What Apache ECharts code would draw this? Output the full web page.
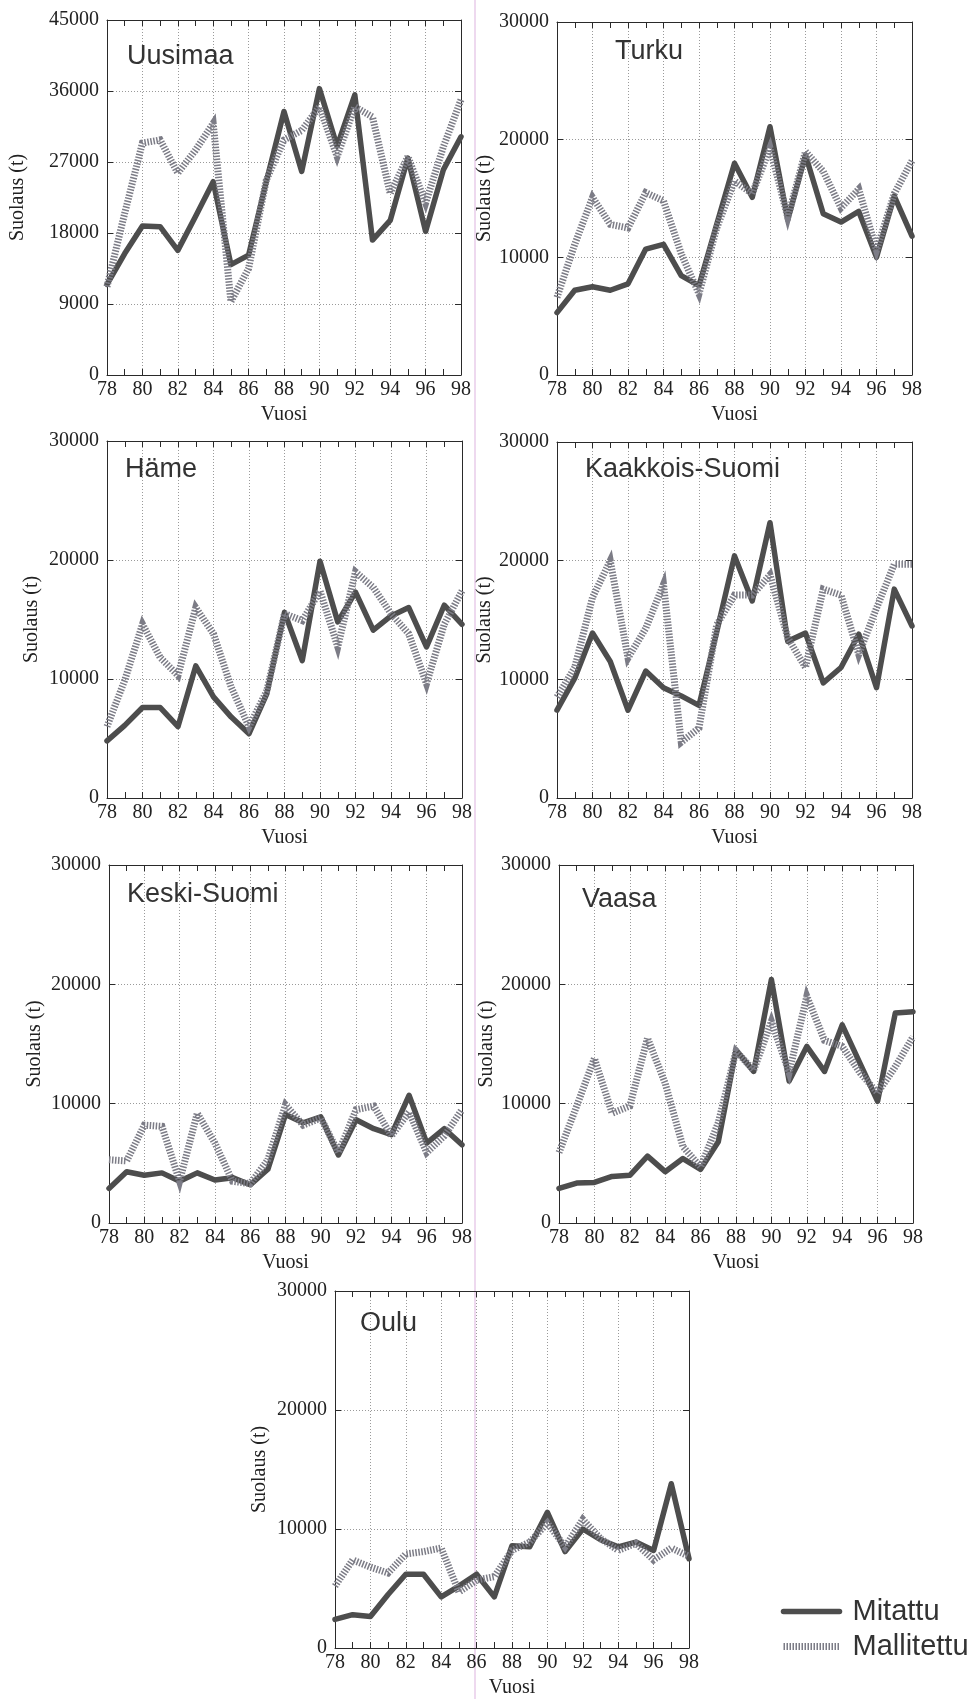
<!DOCTYPE html>
<html>
<head>
<meta charset="utf-8">
<script src="https://cdn.jsdelivr.net/npm/echarts@6/dist/echarts.min.js"></script>
<style>
html,body{margin:0;padding:0;background:#fff;}
#chart{width:972px;height:1699px;}
</style>
</head>
<body>
<div id="chart"></div>
<script>
// ---- data ----
const years = [78,79,80,81,82,83,84,85,86,87,88,89,90,91,92,93,94,95,96,97,98];
const seriesNames = ['Mitattu', 'Mallitettu'];
const regionNames = ['Uusimaa', 'Turku', 'Häme', 'Kaakkois-Suomi', 'Keski-Suomi', 'Vaasa', 'Oulu'];

const uusimaaMitattu    = [11500,15400,18900,18800,15800,20100,24500,14000,15200,24500,33400,25800,36300,29000,35500,17100,19600,27500,18200,26000,30200];
const uusimaaMallitettu = [11200,20500,29400,29800,25600,28500,31900,9300,13500,24700,29800,31000,34000,27700,34000,32700,23000,27700,21800,28900,34900];

const turkuMitattu      = [5300,7200,7500,7200,7750,10700,11100,8450,7600,12800,18000,15100,21100,13200,18700,13700,13000,13900,10000,15200,11800];
const turkuMallitettu   = [6600,11100,15100,12800,12500,15500,14800,10300,6900,12500,16500,15400,19300,13400,19000,17300,14200,15800,10600,15400,18200];

const hameMitattu       = [4800,6100,7600,7600,6000,11100,8500,6800,5400,8750,15600,11550,19900,14800,17300,14100,15300,16000,12700,16200,14600];
const hameMallitettu    = [6000,9900,14600,11800,10300,16000,13800,9300,6000,9000,15500,14900,17400,12700,19000,17700,15500,13800,9600,14600,17400];

const kaakkoisMitattu   = [7400,10100,13900,11500,7400,10700,9300,8600,7800,14000,20400,16600,23200,13200,13900,9700,11000,13800,9300,17600,14500];
const kaakkoisMallitettu= [8500,11000,16900,20000,11800,14300,18000,4700,5900,14600,17100,17100,18800,13500,11000,17600,17100,12100,16000,19700,19700];

const keskiMitattu      = [2900,4300,4000,4200,3500,4200,3600,3800,3200,4500,9100,8400,8900,5700,8650,7900,7400,10700,6700,7900,6550];
const keskiMallitettu   = [5300,5200,8200,8100,3500,9200,6700,3500,3300,5300,9900,8200,8800,5900,9500,9800,7300,9300,5900,7300,9500];

const vaasaMitattu      = [2900,3350,3400,3900,4000,5600,4300,5400,4500,6800,14500,12700,20400,11900,14800,12700,16600,13400,10200,17600,17700];
const vaasaMallitettu   = [5900,9800,13800,9200,9800,15500,11700,6400,4700,8400,14400,12800,16900,12600,19000,15300,14800,12600,10900,13100,15600];

const ouluMitattu       = [2400,2800,2650,4500,6200,6200,4300,5200,6200,4300,8600,8500,11400,8100,10000,9100,8500,8900,8200,13800,7500];
const ouluMallitettu    = [5200,7400,6800,6300,7900,8100,8400,4700,5700,6000,8200,8900,10500,8500,10800,9200,8200,8800,7400,8400,7700];

const yMaxes  = [45000,30000,30000,30000,30000,30000,30000];
const ySteps  = [9000,10000,10000,10000,10000,10000,10000];
const xLabelStep = 2;
const xAxisName = 'Vuosi';
const yAxisName = 'Suolaus (t)';

// ---- layout / style ----
const measured = [uusimaaMitattu, turkuMitattu, hameMitattu, kaakkoisMitattu, keskiMitattu, vaasaMitattu, ouluMitattu];
const modelled = [uusimaaMallitettu, turkuMallitettu, hameMallitettu, kaakkoisMallitettu, keskiMallitettu, vaasaMallitettu, ouluMallitettu];

const gridBoxes = [
  [107, 20, 354, 355],
  [557, 22, 355, 353],
  [107, 441, 355, 357],
  [557, 442, 355, 356],
  [109, 865, 353, 358],
  [559, 865, 354, 358],
  [335, 1291, 354, 357]
];
const titlePos = [[122,38],[610,33],[120,451],[580,451],[122,876],[577,881],[355,1305]];
const yNameGaps = [79, 62, 65, 59, 64, 61, 65];

const SERIF = '"Liberation Serif", "DejaVu Serif", serif';
const SANS = '"Liberation Sans", Arial, sans-serif';
const AX = '#2a2a2a';
const plain = v => String(Math.round(v));

const grids = [], xAxes = [], yAxes = [], series = [], titles = [];
gridBoxes.forEach((b, i) => {
  grids.push({left: b[0], top: b[1], width: b[2], height: b[3], containLabel: false});
  titles.push({text: regionNames[i], left: titlePos[i][0], top: titlePos[i][1],
    textStyle: {fontFamily: SANS, fontSize: 27, fontWeight: 'normal', color: '#333'}});
  const tick = {show: true, inside: true, length: 6, lineStyle: {color: AX, width: 1}};
  const minor = {show: true, splitNumber: 2, length: 6, lineStyle: {color: AX, width: 1}};
  xAxes.push({
    gridIndex: i, type: 'value', min: years[0], max: years[years.length-1], interval: xLabelStep,
    position: 'bottom', name: xAxisName, nameLocation: 'middle', nameGap: 30,
    nameTextStyle: {fontFamily: SERIF, fontSize: 20, color: '#222'},
    axisLine: {show: true, onZero: false, lineStyle: {color: AX, width: 1}},
    axisTick: tick, minorTick: minor,
    axisLabel: {fontFamily: SERIF, fontSize: 20, color: '#222', margin: 5, formatter: plain},
    splitLine: {show: true, lineStyle: {color: '#9a9a9a', width: 1, type: [1, 2]}}
  });
  xAxes.push({
    gridIndex: i, type: 'value', min: years[0], max: years[years.length-1], interval: xLabelStep,
    position: 'top',
    axisLine: {show: true, onZero: false, lineStyle: {color: AX, width: 1}},
    axisTick: tick, minorTick: minor,
    axisLabel: {show: false}, splitLine: {show: false}
  });
  yAxes.push({
    gridIndex: i, type: 'value', min: 0, max: yMaxes[i], interval: ySteps[i],
    position: 'left', name: yAxisName, nameLocation: 'middle', nameGap: yNameGaps[i],
    nameTextStyle: {fontFamily: SERIF, fontSize: 20, color: '#222'},
    axisLine: {show: true, onZero: false, lineStyle: {color: AX, width: 1}},
    axisTick: tick,
    axisLabel: {fontFamily: SERIF, fontSize: 20, color: '#222', margin: 8, formatter: plain},
    splitLine: {show: true, lineStyle: {color: '#9a9a9a', width: 1, type: [1, 2]}}
  });
  yAxes.push({
    gridIndex: i, type: 'value', min: 0, max: yMaxes[i], interval: ySteps[i],
    position: 'right',
    axisLine: {show: true, onZero: false, lineStyle: {color: AX, width: 1}},
    axisTick: tick, axisLabel: {show: false}, splitLine: {show: false}
  });
  series.push({
    name: seriesNames[0], type: 'line', xAxisIndex: 2*i, yAxisIndex: 2*i,
    data: years.map((y, k) => [y, measured[i][k]]),
    symbol: 'none', showSymbol: false, z: 3,
    lineStyle: {color: '#4d4d4d', width: 5.5, cap: 'round', join: 'round'},
    itemStyle: {color: '#4d4d4d'}
  });
  series.push({
    name: seriesNames[1], type: 'line', xAxisIndex: 2*i, yAxisIndex: 2*i,
    data: years.map((y, k) => [y, modelled[i][k]]),
    symbol: 'none', showSymbol: false, z: 4,
    lineStyle: {color: '#7c7c86', width: 7, type: [1.5, 1.5], cap: 'butt', join: 'miter'},
    itemStyle: {color: '#7c7c86'}
  });
});

const chart = echarts.init(document.getElementById('chart'), null, {renderer: 'canvas'});
chart.setOption({
  animation: false,
  backgroundColor: '#ffffff',
  title: titles,
  grid: grids,
  xAxis: xAxes,
  yAxis: yAxes,
  series: series,
  legend: {
    data: seriesNames, orient: 'vertical', left: 775, top: 1592,
    itemWidth: 56, itemHeight: 14, itemGap: 6,
    itemStyle: {opacity: 0, borderWidth: 0},
    lineStyle: {width: 'inherit'},
    textStyle: {fontFamily: SANS, fontSize: 29, color: '#333', padding: [0, 0, 0, 8]}
  },
  graphic: [{
    type: 'line', silent: true, z: -10,
    shape: {x1: 475, y1: 0, x2: 475, y2: 1699},
    style: {stroke: '#e9cdea', lineWidth: 1.5}
  }]
});
</script>
</body>
</html>
